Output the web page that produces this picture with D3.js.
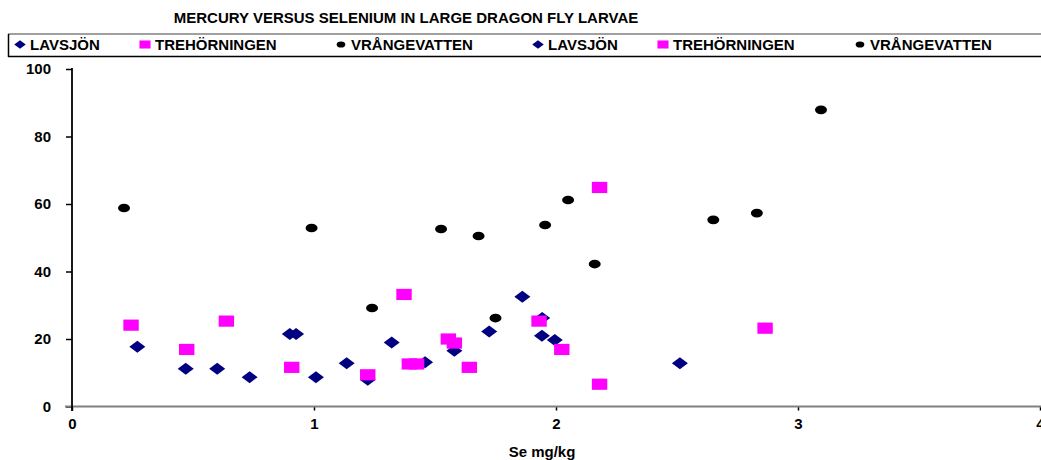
<!DOCTYPE html>
<html>
<head>
<meta charset="utf-8">
<script src="https://cdn.jsdelivr.net/npm/d3@7"></script>
<style>
  html, body { margin: 0; padding: 0; background: #fff; }
  svg { display: block; }
  text { font-family: "Liberation Sans", Arial, sans-serif; font-weight: bold; fill: #000; }
</style>
</head>
<body>
<svg id="chart" width="1041" height="460"></svg>
<script>
// ---- data ----
const title = "MERCURY VERSUS SELENIUM IN LARGE DRAGON FLY LARVAE";
const xLabel = "Se mg/kg";
const xTicks = [0, 1, 2, 3, 4];
const yTicks = [0, 20, 40, 60, 80, 100];
const seriesNames = ["LAVSJÖN", "TREHÖRNINGEN", "VRÅNGEVATTEN"];
const legendLabels = ["LAVSJÖN", "TREHÖRNINGEN", "VRÅNGEVATTEN", "LAVSJÖN", "TREHÖRNINGEN", "VRÅNGEVATTEN"];

const lavsjonSe = [0.27, 0.47, 0.60, 0.734, 0.90, 0.926, 1.008, 1.135, 1.222, 1.321, 1.459, 1.58, 1.724, 1.861, 1.943, 1.942, 1.995, 2.512];
const lavsjonHg = [17.7, 11.2, 11.2, 8.7, 21.5, 21.5, 8.7, 12.8, 7.9, 19.0, 13.1, 16.5, 22.2, 32.5, 26.2, 21.0, 19.7, 12.8];

const trehorSe = [0.244, 0.474, 0.638, 0.908, 1.222, 1.372, 1.394, 1.424, 1.555, 1.58, 1.642, 1.93, 2.024, 2.18, 2.18, 2.864];
const trehorHg = [24.1, 16.9, 25.3, 11.6, 9.4, 33.2, 12.6, 12.6, 20.0, 18.8, 11.6, 25.3, 16.9, 64.9, 6.6, 23.2];

const vrangSe = [0.215, 0.99, 1.24, 1.525, 1.68, 1.75, 1.955, 2.05, 2.16, 2.65, 2.83, 3.095];
const vrangHg = [58.8, 52.9, 29.2, 52.6, 50.5, 26.2, 53.8, 61.2, 42.2, 55.3, 57.3, 87.9];

// ---- layout ----
const svg = d3.select("#chart");
const x = d3.scaleLinear().domain([0, 4]).range([72, 1040]);
const y = d3.scaleLinear().domain([0, 100]).range([406.5, 69]);
const colors = ["#000080", "#FF00FF", "#000000"];
const shapes = ["diamond", "square", "circle"];
const FS = "15px";

function marker(g, shape, color, cx, cy, s) {
  if (shape === "diamond") {
    g.append("path")
      .attr("d", `M${cx - 8 * s},${cy} L${cx},${cy - 6 * s} L${cx + 8 * s},${cy} L${cx},${cy + 6 * s} Z`)
      .attr("fill", color);
  } else if (shape === "square") {
    g.append("rect")
      .attr("x", cx - 7.7 * s).attr("y", cy - 5.6 * s)
      .attr("width", 15.4 * s).attr("height", 11.2 * s)
      .attr("fill", color);
  } else {
    g.append("ellipse")
      .attr("cx", cx).attr("cy", cy)
      .attr("rx", 6 * s).attr("ry", 4.3 * s)
      .attr("fill", color);
  }
}

// title
svg.append("text")
  .attr("x", 406).attr("y", 23)
  .attr("text-anchor", "middle")
  .style("font-size", FS)
  .text(title);

// legend box
const lg = svg.append("g");
lg.append("line").attr("x1", 8).attr("x2", 1041).attr("y1", 34).attr("y2", 34)
  .attr("stroke", "#808080").attr("stroke-width", 1.5);
lg.append("line").attr("x1", 8).attr("x2", 1041).attr("y1", 56.5).attr("y2", 56.5)
  .attr("stroke", "#000").attr("stroke-width", 1.5);
lg.append("line").attr("x1", 8.5).attr("x2", 8.5).attr("y1", 34).attr("y2", 57)
  .attr("stroke", "#000").attr("stroke-width", 1.5);

const legendX = [20, 145, 341, 538, 663, 860];
legendLabels.forEach((lab, i) => {
  const si = i % 3;
  marker(lg, shapes[si], colors[si], legendX[i], 44.5, 0.72);
  lg.append("text")
    .attr("x", legendX[i] + 10).attr("y", 50)
    .style("font-size", FS)
    .text(lab);
});

// axes
const yAxis = d3.axisLeft(y).tickValues(yTicks).tickSize(6).tickPadding(15).tickFormat(d3.format("d"));
const gy = svg.append("g").attr("transform", "translate(72,0)").call(yAxis);
gy.select(".domain").remove();
gy.selectAll(".tick line").attr("stroke", "#000").attr("stroke-width", 1.5);
gy.selectAll(".tick text").style("font-size", FS).style("font-family", "Liberation Sans, Arial, sans-serif");

const xAxis = d3.axisBottom(x).tickValues(xTicks).tickSize(4).tickPadding(8).tickFormat(d3.format("d"));
const gx = svg.append("g").attr("transform", "translate(0,406.5)").call(xAxis);
gx.select(".domain").remove();
gx.selectAll(".tick line").attr("stroke", "#000").attr("stroke-width", 1.5);
gx.selectAll(".tick text").style("font-size", FS).style("font-family", "Liberation Sans, Arial, sans-serif");

// axis lines
svg.append("line").attr("x1", 65).attr("x2", 1041).attr("y1", 406.5).attr("y2", 406.5)
  .attr("stroke", "#808080").attr("stroke-width", 2);
svg.append("line").attr("x1", 72).attr("x2", 72).attr("y1", 68).attr("y2", 411)
  .attr("stroke", "#000").attr("stroke-width", 1.8);

// x label
svg.append("text")
  .attr("x", 542).attr("y", 457)
  .attr("text-anchor", "middle")
  .style("font-size", FS)
  .text(xLabel);

// points
const seriesData = [
  [lavsjonSe, lavsjonHg],
  [trehorSe, trehorHg],
  [vrangSe, vrangHg]
];
const pg = svg.append("g");
seriesData.forEach(([xs, ys], si) => {
  xs.forEach((xv, k) => {
    marker(pg, shapes[si], colors[si], x(xv), y(ys[k]), 1);
  });
});
</script>
</body>
</html>
